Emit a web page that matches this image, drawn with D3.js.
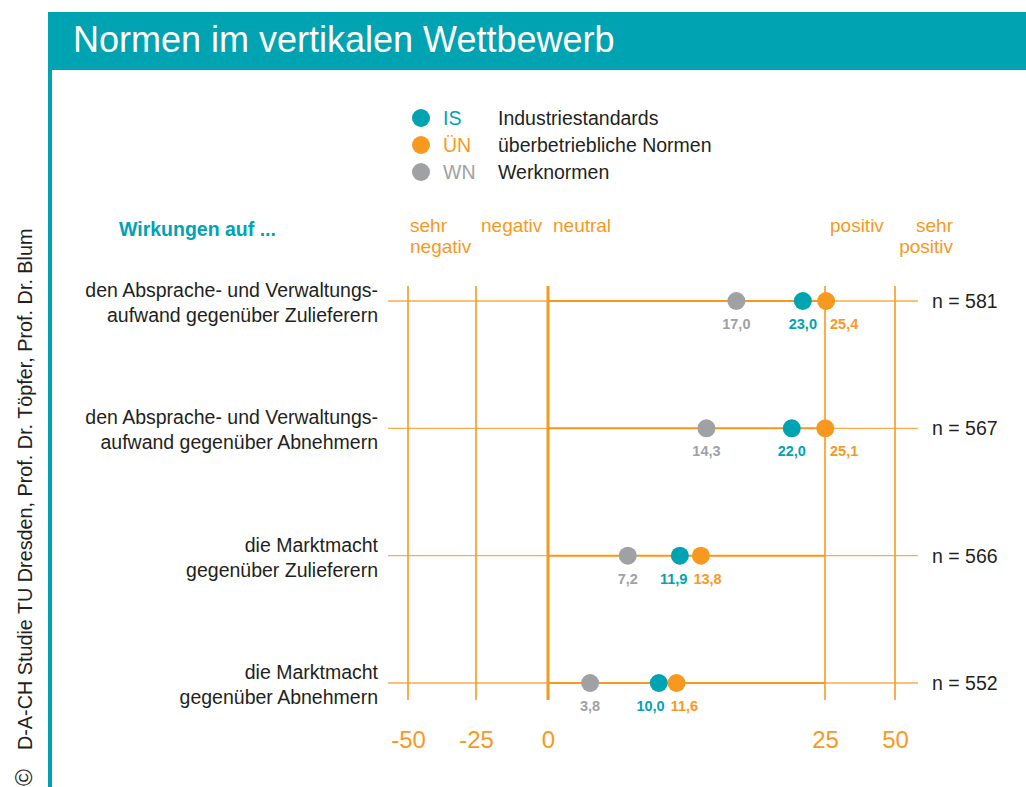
<!DOCTYPE html>
<meta charset="utf-8">
<style>
body { margin: 0; background: #fff; }
svg { font-family: "Liberation Sans", Arial, Helvetica, sans-serif; display: block; }
</style>
<svg width="1026" height="787"></svg>
<script src="https://d3js.org/d3.v7.min.js"></script>
<script>

// chart data
var title = "Normen im vertikalen Wettbewerb";
var credit = "D-A-CH Studie TU Dresden, Prof. Dr. T\u00f6pfer, Prof. Dr. Blum";
var rows = [
  ["den Absprache- und Verwaltungs-", "aufwand gegen\u00fcber Zulieferern"],
  ["den Absprache- und Verwaltungs-", "aufwand gegen\u00fcber Abnehmern"],
  ["die Marktmacht", "gegen\u00fcber Zulieferern"],
  ["die Marktmacht", "gegen\u00fcber Abnehmern"]
];
var sampleSizes = [581, 567, 566, 552];
var seriesIS = [23.0, 22.0, 11.9, 10.0];
var seriesUN = [25.4, 25.1, 13.8, 11.6];
var seriesWN = [17.0, 14.3, 7.2, 3.8];
var ticks = [-50, -25, 0, 25, 50];
var scaleNames = [["sehr", "negativ"], ["negativ"], ["neutral"], ["positiv"], ["sehr", "positiv"]];
var legendKeys = ["IS", "\u00dcN", "WN"];
var legendNames = ["Industriestandards", "\u00fcberbetriebliche Normen", "Werknormen"];

var teal = "#00a3b2",
    orange = "#f8991f",
    grey = "#a0a1a5",
    ink = "#231f20";

var svg = d3.select("svg");

// header
svg.append("rect").attr("x", 48).attr("y", 12).attr("width", 978).attr("height", 58).attr("fill", teal);
svg.append("rect").attr("x", 48).attr("y", 12).attr("width", 4).attr("height", 775).attr("fill", teal);
svg.append("text")
    .attr("x", 73).attr("y", 52)
    .attr("fill", "#fff")
    .style("font-size", "36px")
    .text(title);

// copyright, running up the left edge
svg.append("text")
    .attr("transform", "translate(32,786) rotate(-90)")
    .attr("fill", ink)
    .style("font-size", "23px")
    .text("\u00a9");
svg.append("text")
    .attr("transform", "translate(32,750) rotate(-90)")
    .attr("fill", ink)
    .style("font-size", "19.8px")
    .text(credit);

// scales: the axis is stretched between 0 and 25
var x = d3.scaleLinear().domain(ticks).range([408, 476, 548, 825, 895]);
var y = d3.scalePoint().domain(d3.range(rows.length)).range([301, 683]);

var series = [
  {key: "WN", values: seriesWN, color: grey},
  {key: "IS", values: seriesIS, color: teal},
  {key: "UN", values: seriesUN, color: orange}
];

// legend
var legend = svg.append("g");
legendKeys.forEach(function(k, i) {
  var ly = 118 + i * 27;
  var c = [teal, orange, grey][i];
  legend.append("circle").attr("cx", 421).attr("cy", ly).attr("r", 9).attr("fill", c);
  legend.append("text").attr("x", 443).attr("y", ly + 7).attr("fill", c).style("font-size", "19.5px").text(k);
  legend.append("text").attr("x", 498).attr("y", ly + 7).attr("fill", ink).style("font-size", "19.5px").text(legendNames[i]);
});

svg.append("text")
    .attr("x", 119).attr("y", 236)
    .attr("fill", teal)
    .style("font-size", "19.5px")
    .style("font-weight", "bold")
    .text("Wirkungen auf ...");

// scale names above the grid
scaleNames.forEach(function(lines, i) {
  var last = i === scaleNames.length - 1;
  var t = svg.append("text")
      .attr("fill", orange)
      .style("font-size", "19px")
      .attr("text-anchor", last ? "end" : "start");
  var tx = last ? x(ticks[i]) + 58 : x(ticks[i]) + (i === 0 ? 2 : 5);
  lines.forEach(function(l, j) {
    t.append("tspan").attr("x", tx).attr("y", 232 + j * 21).text(l);
  });
});

// vertical grid
svg.append("g").selectAll("line")
  .data(ticks)
  .join("line")
    .attr("x1", d => x(d)).attr("x2", d => x(d))
    .attr("y1", 286).attr("y2", 700)
    .attr("stroke", orange)
    .attr("stroke-width", d => d === 0 ? 3 : 1.6);

// row lines
var row = svg.append("g").selectAll("g")
  .data(rows)
  .join("g")
    .attr("transform", (d, i) => "translate(0," + y(i) + ")");

row.append("line")
    .attr("x1", 388).attr("x2", 918)
    .attr("stroke", orange).attr("stroke-opacity", 0.8).attr("stroke-width", 1.3);
row.append("line")
    .attr("x1", x(0)).attr("x2", x(25))
    .attr("stroke", orange).attr("stroke-width", 2);

row.append("text")
    .attr("text-anchor", "end")
    .attr("fill", ink)
    .style("font-size", "19.5px")
  .selectAll("tspan")
  .data(d => d)
  .join("tspan")
    .attr("x", 378)
    .attr("y", (d, j) => -4 + j * 25)
    .text(d => d);

row.append("text")
    .attr("x", 932).attr("y", 7)
    .attr("fill", ink)
    .style("font-size", "19.5px")
    .text((d, i) => "n = " + sampleSizes[i]);

// dots
series.forEach(function(s) {
  row.append("circle")
      .attr("cx", (d, i) => x(s.values[i]))
      .attr("r", 9)
      .attr("fill", s.color);
});

// value labels, nudged apart where dots sit close together
var fmt = v => d3.format(".1f")(v).replace(".", ",");
row.each(function(d, i) {
  var g = d3.select(this);
  var xi = x(seriesIS[i]), xu = x(seriesUN[i]), xw = x(seriesWN[i]);
  var pos = {WN: [xw, "middle"], IS: [xi, "middle"], UN: [xu, "middle"]};
  if (Math.abs(xu - x(25)) < 10) {
    pos.UN = [x(25) + 5, "start"];
  } else if (xu - xi < 30) {
    var mid = (xi + xu) / 2;
    pos.IS = [mid - 3, "end"];
    pos.UN = [mid + 3, "start"];
  }
  series.forEach(function(s) {
    g.append("text")
        .attr("x", pos[s.key][0]).attr("y", 28)
        .attr("text-anchor", pos[s.key][1])
        .attr("fill", s.color)
        .style("font-size", "14.5px")
        .style("font-weight", "bold")
        .text(fmt(s.values[i]));
  });
});

// axis
var axis = svg.append("g")
    .attr("transform", "translate(0,731)")
    .call(d3.axisBottom(x).tickValues(ticks).tickSize(0).tickPadding(0).tickFormat(d => String(d)));
axis.select(".domain").remove();
axis.selectAll("text")
    .attr("fill", orange)
    .style("font-size", "24px")
    .style("font-family", "'Liberation Sans', Arial, sans-serif");

</script>
